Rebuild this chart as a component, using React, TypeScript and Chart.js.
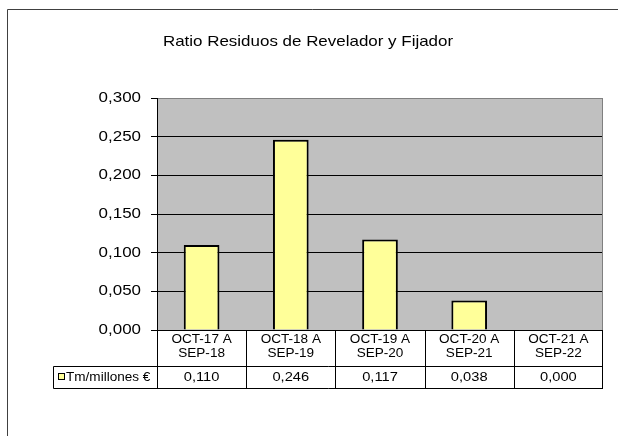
import React, { useEffect, useRef } from "react";
import { Chart, registerables } from "chart.js";

Chart.register(...registerables);

const title = "Ratio Residuos de Revelador y Fijador";
const categories: string[][] = [
  ["OCT-17 A", "SEP-18"],
  ["OCT-18 A", "SEP-19"],
  ["OCT-19 A", "SEP-20"],
  ["OCT-20 A", "SEP-21"],
  ["OCT-21 A", "SEP-22"],
];
const seriesName = "Tm/millones €";
const values = [0.11, 0.246, 0.117, 0.038, 0.0];
const yTicks = [0, 0.05, 0.1, 0.15, 0.2, 0.25, 0.3];

const FONT = '"Liberation Sans", Arial, sans-serif';
const SX = 1.13;
const fmt = (v: number) => v.toFixed(3).replace(".", ",");

function txt(
  ctx: CanvasRenderingContext2D,
  s: string,
  x: number,
  y: number,
  align: CanvasTextAlign,
  size: number,
  baseline: CanvasTextBaseline = "middle"
) {
  ctx.save();
  ctx.font = `${size}px ${FONT}`;
  ctx.fillStyle = "#000";
  ctx.textBaseline = baseline;
  ctx.textAlign = align;
  ctx.translate(x, y);
  ctx.scale(SX, 1);
  ctx.fillText(s, 0, 0);
  ctx.restore();
}

const decor = {
  id: "decor",
  beforeDraw(chart: any) {
    const { ctx, chartArea: a } = chart;
    ctx.save();
    ctx.fillStyle = "#fff";
    ctx.fillRect(0, 0, chart.width, chart.height);
    ctx.fillStyle = "#C0C0C0";
    ctx.fillRect(a.left, a.top, a.right - a.left, a.bottom - a.top);
    ctx.restore();
  },
  afterDraw(chart: any) {
    const { ctx, chartArea: a } = chart;
    const xs = chart.scales.x;
    const ys = chart.scales.y;
    ctx.save();
    // outer frame (top & left visible)
    ctx.strokeStyle = "#404040";
    ctx.lineWidth = 1;
    ctx.beginPath();
    ctx.moveTo(7.5, chart.height);
    ctx.lineTo(7.5, 9.5);
    ctx.lineTo(chart.width, 9.5);
    ctx.stroke();

    // plot border right
    ctx.strokeStyle = "#808080";
    ctx.beginPath();
    ctx.moveTo(Math.round(a.right) - 0.5, a.top);
    ctx.lineTo(Math.round(a.right) - 0.5, a.bottom);
    ctx.stroke();

    // title
    txt(ctx, title, 308, 46, "center", 15, "alphabetic");

    // y labels
    ys.ticks.forEach((t: any) => {
      const y = ys.getPixelForValue(t.value);
      txt(ctx, fmt(t.value), 141, y, "right", 15);
    });

    // data table
    const n = categories.length;
    const w = (a.right - a.left) / n;
    const top = Math.round(a.bottom);
    const mid = 366.5;
    const bot = 388.5;
    const legL = 53.5;
    ctx.strokeStyle = "#000";
    ctx.lineWidth = 1;
    ctx.beginPath();
    for (let i = 0; i <= n; i++) {
      const x = Math.round(a.left + i * w) + 0.5 - (i === n ? 1 : 0);
      ctx.moveTo(x, top);
      ctx.lineTo(x, bot);
    }
    ctx.moveTo(legL, mid);
    ctx.lineTo(a.right, mid);
    ctx.moveTo(legL, bot);
    ctx.lineTo(a.right, bot);
    ctx.moveTo(legL, mid);
    ctx.lineTo(legL, bot);
    ctx.stroke();

    categories.forEach((lines, i) => {
      const cx = xs.getPixelForValue(i);
      txt(ctx, lines[0], cx, 339.5, "center", 12);
      txt(ctx, lines[1], cx, 353.8, "center", 12);
      txt(ctx, fmt(values[i]), cx, 377.8, "center", 13);
    });

    // legend key
    ctx.fillStyle = "#FFFF99";
    ctx.fillRect(58.5, 373.5, 6, 6);
    ctx.strokeStyle = "#000";
    ctx.strokeRect(58.5, 373.5, 6, 6);
    txt(ctx, seriesName, 66, 377.8, "left", 12);
    ctx.restore();
  },
};

export default function App() {
  const ref = useRef<HTMLCanvasElement>(null);
  useEffect(() => {
    if (!ref.current) return;
    const chart = new Chart(ref.current, {
      type: "bar",
      data: {
        labels: categories.map((c) => c.join(" ")),
        datasets: [
          {
            label: seriesName,
            data: values,
            backgroundColor: "#FFFF99",
            borderColor: "#000",
            borderWidth: 2,
            barPercentage: 0.4,
            categoryPercentage: 1,
          },
        ],
      },
      options: {
        responsive: false,
        animation: false,
        devicePixelRatio: 1,
        layout: { padding: { top: 98, right: 15, bottom: 106, left: 0 } },
        plugins: {
          legend: { display: false },
          title: { display: false },
          tooltip: { enabled: false },
        },
        scales: {
          x: { display: false },
          y: {
            min: 0,
            max: 0.3,
            afterBuildTicks: (s: any) => {
              s.ticks = yTicks.map((v) => ({ value: v }));
            },
            afterFit: (s: any) => {
              s.width = 157;
            },
            ticks: { display: false },
            grid: {
              color: (c: any) => (c.tick && c.tick.value === 0.3 ? "#808080" : "#000"),
              lineWidth: 1,
              drawTicks: true,
              tickLength: 6,
              tickColor: "#000",
            },
            border: { display: true, color: "#000", width: 1 },
          },
        },
      },
      plugins: [decor],
    });
    return () => chart.destroy();
  }, []);
  return (
    <div style={{ position: "absolute", left: 0, top: 0, width: 618, height: 436 }}>
      <canvas ref={ref} width={618} height={436} style={{ display: "block" }} />
    </div>
  );
}
